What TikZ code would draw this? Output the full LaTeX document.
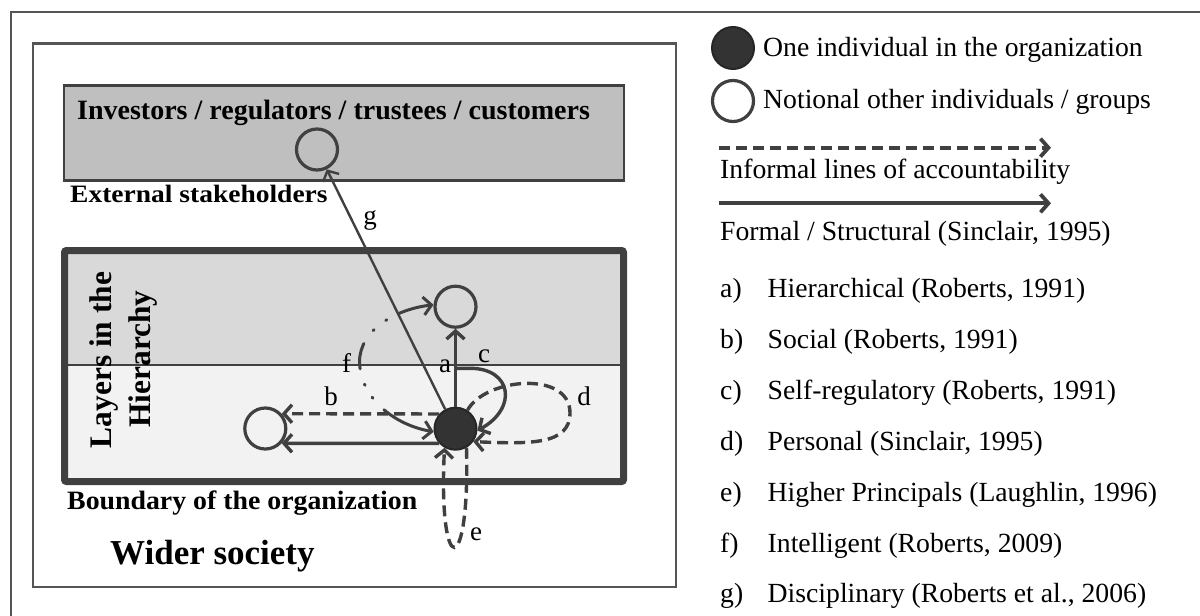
\documentclass[tikz,border=0pt]{standalone}
\usepackage{fontspec}
\usepackage{graphicx}
\setmainfont{Liberation Serif}
\usetikzlibrary{arrows.meta}
\definecolor{lc}{HTML}{404040}
\definecolor{fc}{HTML}{333333}
\definecolor{fcb}{HTML}{262626}
\definecolor{boxA}{HTML}{BFBFBF}
\definecolor{fillU}{HTML}{D9D9D9}
\definecolor{fillL}{HTML}{F2F2F2}
\definecolor{frm}{HTML}{555555}
\tikzset{
  ln/.style={draw=lc, line width=3.4pt},
  dsh/.style={dash pattern=on 11pt off 6pt},
  tip/.style={-{Straight Barb[length=8pt,width=18pt]}},
  ocirc/.style={circle, draw=lc, line width=3.2pt, minimum size=41pt, inner sep=0pt},
  fcirc/.style={circle, fill=fc, draw=fcb, line width=2pt, minimum size=42pt, inner sep=0pt},
  lbl/.style={font=\fontsize{27}{30}\selectfont, inner sep=0pt, anchor=base},
  leg/.style={font=\fontsize{27.7}{30}\selectfont, inner sep=0pt, anchor=base west},
}
\begin{document}
\begin{tikzpicture}[x=1pt,y=-1pt]
\clip (0,0) rectangle (1200,616);
\fill[white] (0,0) rectangle (1200,616);
% frames
\draw[frm, line width=1.6pt] (11,12) rectangle (1215,630);
\draw[frm, line width=2.5pt] (33,43.5) rectangle (676,587);
% investors box
\draw[fill=boxA, draw=lc, line width=2.5pt] (64,85.5) rectangle (624,180.5);
% hierarchy box
\fill[fillU] (64.5,250.5) rectangle (623.5,365);
\fill[fillL] (64.5,365) rectangle (623.5,481.5);
\draw[lc, line width=1.5pt] (64.5,365) -- (623.5,365);
\draw[lc, line width=7pt, rounded corners=2pt] (64.5,250.5) rectangle (623.5,481.5);
% texts
\node[inner sep=0pt, anchor=base west, font=\fontsize{28}{32}\selectfont\bfseries] (inv) at (77,119) {Investors / regulators / trustees / customers};
\node[inner sep=0pt, anchor=base west, font=\fontsize{25}{30}\selectfont\bfseries] (ext) at (70,202) {\scalebox{1.1}[1]{External stakeholders}};
\node[inner sep=0pt, anchor=base, rotate=90, font=\fontsize{31.4}{36}\selectfont\bfseries] (lay1) at (111.7,360) {Layers in the};
\node[inner sep=0pt, anchor=base, rotate=90, font=\fontsize{31.4}{36}\selectfont\bfseries] (lay2) at (150,359) {Hierarchy};
\node[inner sep=0pt, anchor=base west, font=\fontsize{26.5}{30}\selectfont\bfseries] (bnd) at (67,509.3) {\scalebox{1.05}[1]{Boundary of the organization}};
\node[inner sep=0pt, anchor=base west, font=\fontsize{35}{40}\selectfont\bfseries] (wid) at (110,564.3) {Wider society};
% people
\node[ocirc] (top) at (317,149.5) {};
\node[ocirc] (up) at (455.5,306.7) {};
\node[fcirc] (me) at (455.5,428.7) {};
\node[ocirc] (left) at (265.3,428.5) {};
\coordinate (cst) at (455.5,368.3);
% connectors
\draw[ln, line width=2.4pt, tip] (me.118) -- (top);
\draw[ln, tip] (me) -- (up);
\draw[ln, tip] (cst) -- (470,368.3) .. controls (512,368.3) and (518,408) .. (me.-5);
\draw[ln, dsh, tip] (me.57) .. controls (485,378) and (570,370) .. (570,413) .. controls (570,445) and (530,444) .. (me.-36);
\draw[ln, dsh, tip] (me.138) -- (left.42);
\draw[ln, tip] (me.222) -- (left.318);
\draw[ln, dsh, tip] (me.300) .. controls (470,580) and (438,580) .. (me.240);
\draw[ln, line width=3pt, line cap=round, dash pattern={on 32pt off 14pt on 1.2pt off 15pt on 1.2pt off 16pt on 26pt off 16pt on 1.2pt off 14pt on 1.2pt off 16pt on 60pt off 10pt},
  {Straight Barb[length=8pt,width=18pt]}-{Straight Barb[length=8pt,width=18pt]}]
  (up.175) .. controls (390,310) and (355,335) .. (360,368) .. controls (364,400) and (395,425) .. (me.188);
% labels
\node[lbl] (la) at (445,372) {a};
\node[lbl] (lb) at (331,405) {b};
\node[lbl] (lcc) at (484,362) {c};
\node[lbl] (ld) at (584,405) {d};
\node[lbl] (le) at (476,540) {e};
\node[lbl] (lf) at (346.5,372) {f};
\node[lbl] (lg) at (370,224) {g};
% legend
\node[fcirc] (kf) at (733,48) {};
\node[ocirc] (ko) at (733,101) {};
\node[leg] (k1) at (763,56) {One individual in the organization};
\node[leg] (k2) at (763,108) {Notional other individuals / groups};
\coordinate (d1) at (718.5,147.7);
\coordinate (d2) at (1051,147.7);
\draw[ln, line width=3.8pt, dsh, tip] (d1) -- (d2);
\node[leg] (k3) at (720,178) {Informal lines of accountability};
\coordinate (s1) at (718.5,203.3);
\coordinate (s2) at (1051,203.3);
\draw[ln, line width=3.8pt, tip] (s1) -- (s2);
\node[leg] (k4) at (720,240.7) {Formal / Structural (Sinclair, 1995)};
\node[leg] (ia) at (720,297) {a)};
\node[leg] (ta) at (767.5,297) {Hierarchical (Roberts, 1991)};
\node[leg] (ib) at (720,348) {b)};
\node[leg] (tb) at (767.5,348) {Social (Roberts, 1991)};
\node[leg] (ic) at (720,399) {c)};
\node[leg] (tc) at (767.5,399) {Self-regulatory (Roberts, 1991)};
\node[leg] (id) at (720,450) {d)};
\node[leg] (td) at (767.5,450) {Personal (Sinclair, 1995)};
\node[leg] (ie) at (720,501) {e)};
\node[leg] (te) at (767.5,501) {Higher Principals (Laughlin, 1996)};
\node[leg] (iff) at (720,552) {f)};
\node[leg] (tf) at (767.5,552) {Intelligent (Roberts, 2009)};
\node[leg] (ig) at (720,602) {g)};
\node[leg] (tg) at (767.5,602) {Disciplinary (Roberts et al., 2006)};
\end{tikzpicture}
\end{document}
